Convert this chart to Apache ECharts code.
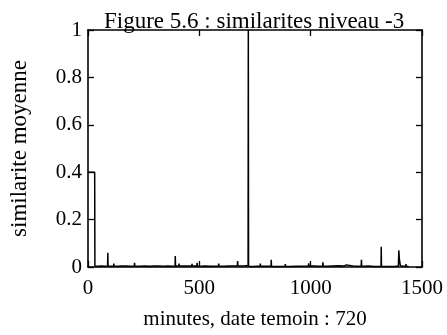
<!DOCTYPE html>
<html>
<head>
<meta charset="utf-8">
<script src="https://cdn.jsdelivr.net/npm/echarts@6/dist/echarts.min.js"></script>
<style>
html, body { margin: 0; padding: 0; background: #fff; }
#chart { width: 447px; height: 335px; }
</style>
</head>
<body>
<div id="chart"></div>
<script>
// minutes of the day, and the mean similarity at each
var minutes = [
    0, 30, 31, 45, 60, 75, 88, 89, 90, 105,
    115, 116, 117, 135, 150, 173, 174, 175, 190, 208,
    209, 210, 230, 253, 254, 255, 275, 295, 315, 316,
    317, 340, 359, 360, 361, 375, 391, 392, 393, 408,
    409, 410, 435, 436, 437, 466, 467, 468, 489, 490,
    491, 510, 524, 525, 526, 550, 586, 587, 588, 610,
    631, 632, 633, 650, 671, 672, 673, 690, 705, 719,
    720, 721, 740, 760, 773, 774, 775, 800, 822, 823,
    824, 850, 885, 886, 887, 910, 933, 934, 935, 960,
    990, 991, 992, 1015, 1016, 1017, 1035, 1054, 1055, 1056,
    1075, 1098, 1099, 1100, 1125, 1126, 1127, 1150, 1160, 1161,
    1190, 1191, 1192, 1210, 1227, 1228, 1229, 1245, 1259, 1260,
    1261, 1285, 1316, 1317, 1318, 1345, 1375, 1394, 1396, 1398,
    1401, 1403, 1415, 1427, 1428, 1429, 1440
];
var similarite = [
    0.40, 0.40, 0.004, 0.003, 0.004, 0.003, 0.004, 0.060, 0.004, 0.003,
    0.004, 0.014, 0.004, 0.003, 0.004, 0.004, 0.012, 0.004, 0.003, 0.004,
    0.018, 0.004, 0.003, 0.004, 0.012, 0.004, 0.003, 0.004, 0.004, 0.012,
    0.004, 0.003, 0.004, 0.010, 0.004, 0.003, 0.004, 0.046, 0.004, 0.004,
    0.015, 0.004, 0.004, 0.012, 0.004, 0.004, 0.013, 0.004, 0.004, 0.018,
    0.004, 0.003, 0.004, 0.011, 0.004, 0.003, 0.004, 0.015, 0.004, 0.003,
    0.004, 0.012, 0.004, 0.004, 0.005, 0.025, 0.005, 0.004, 0.005, 0.006,
    1.0, 0.003, 0.002, 0.003, 0.003, 0.015, 0.003, 0.003, 0.003, 0.030,
    0.003, 0.002, 0.003, 0.012, 0.003, 0.002, 0.003, 0.008, 0.003, 0.003,
    0.004, 0.016, 0.004, 0.004, 0.012, 0.004, 0.003, 0.004, 0.020, 0.004,
    0.003, 0.004, 0.010, 0.004, 0.005, 0.010, 0.005, 0.004, 0.009, 0.004,
    0.004, 0.008, 0.004, 0.003, 0.004, 0.030, 0.004, 0.003, 0.004, 0.012,
    0.003, 0.002, 0.002, 0.085, 0.002, 0.002, 0.002, 0.004, 0.070, 0.035,
    0.030, 0.005, 0.003, 0.003, 0.012, 0.003, 0.002
];
var xTicks = [0, 500, 1000, 1500];
var yTicks = [0, 0.2, 0.4, 0.6, 0.8, 1];

var serif = 'Liberation Serif';
var data = minutes.map(function (m, i) { return [m, similarite[i]]; });

var myChart = echarts.init(document.getElementById('chart'));
var axisLine = { show: true, onZero: false, lineStyle: { color: '#000', width: 1.6 } };
var tick = { show: true, inside: true, length: 6, lineStyle: { color: '#000', width: 1.3 } };
var plain = function (v) { return String(v); };
var options = {
    animation: false,
    backgroundColor: '#fff',
    title: {
        text: 'Figure 5.6 : similarites niveau -3',
        left: 99, top: 5,
        textStyle: { fontFamily: serif, fontSize: 23, fontWeight: 'normal', color: '#000' }
    },
    grid: { left: 86, right: 25, top: 30, bottom: 65 },
    xAxis: [{
        type: 'value', position: 'bottom', min: xTicks[0], max: xTicks[xTicks.length - 1], interval: 500,
        axisLine: axisLine, axisTick: tick, splitLine: { show: false },
        axisLabel: { color: '#000', fontFamily: serif, fontSize: 21, margin: 11, formatter: plain },
        name: 'minutes, date temoin : 720', nameLocation: 'middle', nameGap: 42,
        nameTextStyle: { color: '#000', fontFamily: serif, fontSize: 21 }
    }, {
        type: 'value', position: 'top', min: xTicks[0], max: xTicks[xTicks.length - 1], interval: 500,
        axisLine: axisLine, axisTick: tick, splitLine: { show: false }, axisLabel: { show: false }
    }],
    yAxis: [{
        type: 'value', position: 'left', min: yTicks[0], max: yTicks[yTicks.length - 1], interval: 0.2,
        axisLine: axisLine, axisTick: tick, splitLine: { show: false },
        axisLabel: { color: '#000', fontFamily: serif, fontSize: 21, margin: 6, formatter: plain },
        name: 'similarite moyenne', nameLocation: 'middle', nameGap: 57,
        nameTextStyle: { color: '#000', fontFamily: serif, fontSize: 23 }
    }, {
        type: 'value', position: 'right', min: yTicks[0], max: yTicks[yTicks.length - 1], interval: 0.2,
        axisLine: axisLine, axisTick: tick, splitLine: { show: false }, axisLabel: { show: false }
    }],
    series: [{
        type: 'line',
        data: data,
        showSymbol: false,
        lineStyle: { color: '#000', width: 1.5 },
        clip: true
    }]
};
myChart.setOption(options);
</script>
</body>
</html>
